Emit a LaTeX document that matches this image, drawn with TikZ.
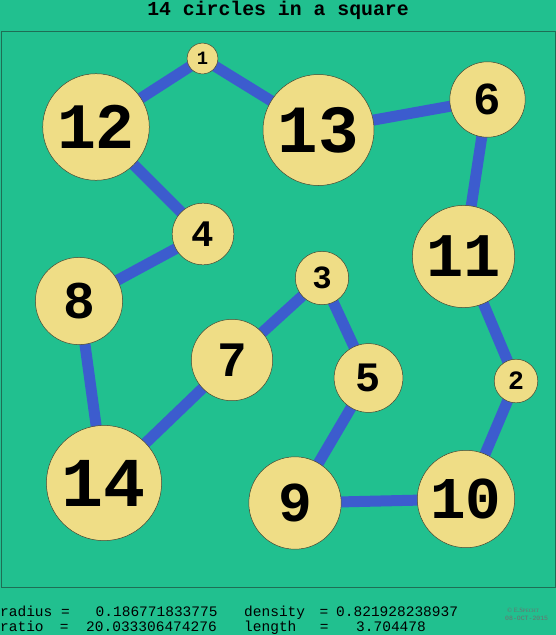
\documentclass[tikz,border=0pt]{standalone}
\usepackage{fontspec}
\setmonofont{Liberation Mono}
\newfontfamily\serfont{Liberation Serif}
\definecolor{bg}{RGB}{33,192,143}
\definecolor{frame}{RGB}{30,110,85}
\definecolor{ballfill}{RGB}{239,221,134}
\definecolor{ballline}{RGB}{70,70,50}
\definecolor{link}{RGB}{60,92,206}
\definecolor{note}{RGB}{110,110,110}
\pgfdeclarelayer{bottom}
\pgfdeclarelayer{links}
\pgfsetlayers{bottom,links,main}
\tikzset{
  ball/.style={circle,fill=ballfill,draw=ballline,line width=0.5pt,inner sep=0pt},
  linkline/.style={draw=link,line width=11pt},
  info/.style={anchor=base west,inner sep=0pt,font=\ttfamily\fontsize{14.5}{15}\selectfont},
  copy/.style={anchor=base west,inner sep=0pt,text=note},
}
\newcommand{\nf}[1]{\ttfamily\bfseries\fontsize{#1}{#1}\selectfont}
\begin{document}
\begin{tikzpicture}[x=1pt,y=-1pt]
\begin{pgfonlayer}{bottom}
\fill[bg] (0,0) rectangle (556,635);
\end{pgfonlayer}
\useasboundingbox (0,0) rectangle (556,635);
\node[font=\ttfamily\bfseries\fontsize{19.8}{20}\selectfont,inner sep=0pt,anchor=base] (title) at (278,15) {14 circles in a square};
\node[draw=frame,line width=0.8pt,minimum width=554pt,minimum height=556pt,inner sep=0pt] (sq) at (278,309) {};
% circles
\node[ball,minimum size=30.8pt,font=\nf{18.8}] (c1) at (202.5,58.5) {1};
\node[ball,minimum size=43.6pt,font=\nf{26.5}] (c2) at (516,381) {2};
\node[ball,minimum size=53.4pt,font=\nf{32.4}] (c3) at (322,278) {3};
\node[ball,minimum size=61.6pt,font=\nf{37.4}] (c4) at (203,234) {4};
\node[ball,minimum size=68.8pt,font=\nf{41.8}] (c5) at (368.5,378) {5};
\node[ball,minimum size=75.4pt,font=\nf{45.8}] (c6) at (487.5,99.5) {6};
\node[ball,minimum size=81.4pt,font=\nf{49.5}] (c7) at (232,360) {7};
\node[ball,minimum size=87.2pt,font=\nf{53}] (c8) at (79,301) {8};
\node[ball,minimum size=92.4pt,font=\nf{56.2}] (c9) at (295,503) {9};
\node[ball,minimum size=97.4pt,font=\nf{59.2}] (c10) at (466,499) {10};
\node[ball,minimum size=102.2pt,font=\nf{62}] (c11) at (463.5,256.5) {11};
\node[ball,minimum size=106.6pt,font=\nf{64.8}] (c12) at (96,127) {12};
\node[ball,minimum size=111pt,font=\nf{67.5}] (c13) at (318.5,130) {13};
\node[ball,minimum size=115.2pt,font=\nf{70}] (c14) at (104,483) {14};
% links behind the circles
\begin{pgfonlayer}{links}
\draw[linkline] (c12.center) -- (c1.center) -- (c13.center) -- (c6.center)
  -- (c11.center) -- (c2.center) -- (c10.center) -- (c9.center) -- (c5.center)
  -- (c3.center) -- (c7.center) -- (c14.center) -- (c8.center) -- (c4.center)
  -- (c12.center);
\end{pgfonlayer}
% info text
\node[info] (r1a) at (0,616) {radius =};
\node[info] (r1b) at (95.5,616) {0.186771833775};
\node[info] (r1c) at (244,616) {density};
\node[info] (r1d) at (319.5,616) {=};
\node[info] (r1e) at (336,616) {0.821928238937};
\node[info] (r2a) at (0,631) {ratio};
\node[info] (r2b) at (59.6,631) {=};
\node[info] (r2c) at (86,631) {20.033306474276};
\node[info] (r2d) at (244,631) {length};
\node[info] (r2e) at (319.7,631) {=};
\node[info] (r2f) at (356,631) {3.704478};
\node[copy,font=\serfont\fontsize{6.5}{7}\selectfont] (cp1) at (507,612) {\textcopyright\ E.S{\fontsize{5}{6}\selectfont PECHT}};
\node[copy,font=\ttfamily\fontsize{6.5}{7}\selectfont] (cp2) at (505,620) {08-OCT-2015};
\end{tikzpicture}
\end{document}
